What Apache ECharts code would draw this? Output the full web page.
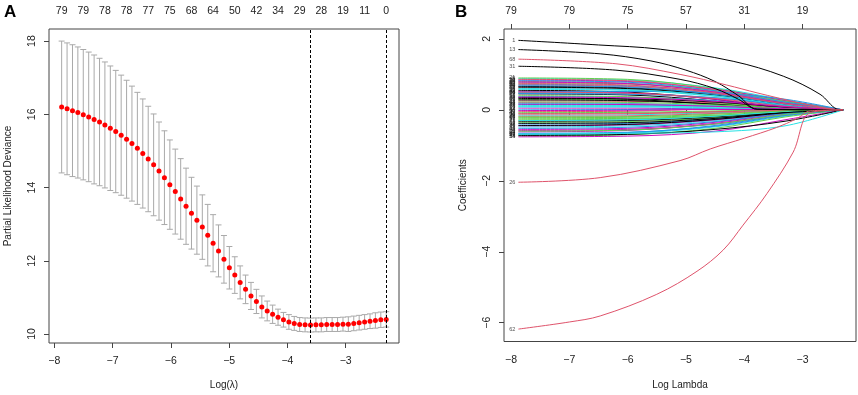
<!DOCTYPE html>
<html>
<head>
<meta charset="utf-8">
<script src="https://cdn.jsdelivr.net/npm/echarts@6/dist/echarts.min.js"></script>
<style>
html, body { margin: 0; padding: 0; background: #fff; }
#main { width: 858px; height: 395px; }
</style>
</head>
<body>
<div id="main"></div>
<script>
// ---------- shared lambda grid (log scale) ----------
var logLambda = [
  -7.873, -7.780, -7.687, -7.595, -7.502, -7.409, -7.316, -7.223, -7.131, -7.038,
  -6.945, -6.852, -6.759, -6.667, -6.574, -6.481, -6.388, -6.295, -6.203, -6.110,
  -6.017, -5.924, -5.831, -5.739, -5.646, -5.553, -5.460, -5.367, -5.275, -5.182,
  -5.089, -4.996, -4.903, -4.811, -4.718, -4.625, -4.532, -4.439, -4.347, -4.254,
  -4.161, -4.068, -3.975, -3.883, -3.790, -3.697, -3.604, -3.511, -3.419, -3.326,
  -3.233, -3.140, -3.047, -2.955, -2.862, -2.769, -2.676, -2.583, -2.491, -2.398, -2.305
];

// ---------- panel A: cross-validation curve ----------
var cvMean = [
  16.20, 16.15, 16.10, 16.05, 15.99, 15.93, 15.86, 15.79, 15.71, 15.62,
  15.53, 15.43, 15.32, 15.20, 15.07, 14.93, 14.78, 14.62, 14.45, 14.27,
  14.08, 13.89, 13.69, 13.49, 13.30, 13.11, 12.92, 12.70, 12.48, 12.27,
  12.04, 11.81, 11.61, 11.41, 11.22, 11.04, 10.89, 10.74, 10.63, 10.54,
  10.46, 10.39, 10.33, 10.29, 10.26, 10.25, 10.245, 10.25, 10.25, 10.26,
  10.26, 10.26, 10.27, 10.27, 10.29, 10.31, 10.33, 10.35, 10.37, 10.39, 10.40
];
var cvSd = [
  1.80, 1.80, 1.80, 1.79, 1.78, 1.77, 1.76, 1.74, 1.72, 1.70,
  1.67, 1.64, 1.61, 1.57, 1.53, 1.49, 1.44, 1.39, 1.34, 1.28,
  1.22, 1.16, 1.10, 1.04, 0.98, 0.93, 0.88, 0.84, 0.78, 0.71,
  0.65, 0.58, 0.50, 0.45, 0.39, 0.37, 0.33, 0.30, 0.27, 0.25,
  0.22, 0.20, 0.20, 0.19, 0.19, 0.19, 0.19, 0.19, 0.19, 0.19,
  0.19, 0.19, 0.19, 0.20, 0.20, 0.20, 0.20, 0.20, 0.21, 0.21, 0.21
];
var idxMin = 46, idx1se = 60;
var dfTopA = [79, 79, 78, 78, 77, 75, 68, 64, 50, 42, 34, 29, 28, 19, 11, 0];
var xTicks = [-8, -7, -6, -5, -4, -3];
var yTicksA = [10, 12, 14, 16, 18];

// ---------- panel B: coefficient paths ----------
var yTicksB = [-6, -4, -2, 0, 2];
var dfTopB = [79, 79, 75, 57, 31, 19];

// the paths that stand out from the bundle
var pathIds = [1, 13, 68, 31, 26, 62];
var pathX = [
  [-7.873, -6.5, -5.44, -4.19, -3.33, -2.70, -2.41, -2.305],
  [-7.873, -6.47, -5.6, -5.0, -4.5, -4.1, -3.78, -2.305],
  [-7.873, -6.2, -5.1, -4.3, -3.78, -3.09, -2.7, -2.45, -2.305],
  [-7.873, -6.2, -5.1, -4.5, -4.1, -3.78, -2.305],
  [-7.873, -6.47, -5.1, -4.58, -4.0, -3.45, -3.1, -2.87, -2.305],
  [-7.873, -7.0, -6.47, -5.5, -4.81, -4.36, -4.02, -3.61, -3.16, -2.87, -2.305]
];
var pathY = [
  [1.96, 1.83, 1.71, 1.37, 0.95, 0.44, 0.02, 0],
  [1.70, 1.58, 1.38, 1.12, 0.80, 0.40, 0.02, 0],
  [1.43, 1.30, 1.00, 0.70, 0.48, 0.21, 0.08, 0.01, 0],
  [1.23, 1.12, 0.86, 0.60, 0.30, 0.02, 0],
  [-2.04, -1.91, -1.43, -1.10, -0.80, -0.50, -0.25, -0.03, 0],
  [-6.18, -5.98, -5.81, -5.20, -4.55, -3.95, -3.25, -2.36, -1.19, -0.08, 0]
];

// the dense bundle near zero, values at knotsB
var knotsB = [-7.873, -6.0, -4.5, -3.3, -2.305];
var bundleIds = [
  2, 3, 4, 5, 6, 7, 8, 9, 10, 11, 12,
  14, 15, 16, 17, 18, 19, 20, 21, 22, 23, 24, 25,
  27, 28, 29, 30,
  32, 33, 34, 35, 36, 37, 38, 39, 40, 41, 42, 43, 44, 45, 46,
  48, 49, 50, 51, 52, 53, 54, 55, 56, 57, 58, 59, 60, 61,
  63, 64, 65, 66, 67,
  69, 70, 71, 72, 73, 74, 75, 76, 77, 78, 79, 80
];
var bundleVals = [
  [0.62, 0.58, 0.40, 0.12, 0], [-0.35, -0.33, -0.22, -0.08, 0], [0.15, 0.14, 0.10, 0.03, 0],
  [0.88, 0.84, 0.62, 0.28, 0], [-0.62, -0.58, -0.38, -0.12, 0], [0.45, 0.42, 0.25, 0.02, 0],
  [-0.10, -0.09, -0.05, 0.00, 0], [0.30, 0.28, 0.18, 0.05, 0], [0.72, 0.68, 0.50, 0.20, 0],
  [-0.48, -0.45, -0.30, -0.10, 0], [0.05, 0.05, 0.02, 0.00, 0],
  [0.80, 0.75, 0.52, 0.22, 0], [-0.22, -0.21, -0.15, -0.05, 0], [0.38, 0.36, 0.26, 0.10, 0],
  [-0.70, -0.66, -0.48, -0.18, 0], [0.20, 0.18, 0.10, 0.00, 0], [0.55, 0.50, 0.30, 0.05, 0],
  [-0.05, -0.04, 0.02, 0.02, 0], [0.90, 0.86, 0.60, 0.25, 0], [-0.40, -0.38, -0.25, -0.06, 0],
  [0.10, 0.10, 0.08, 0.04, 0], [-0.58, -0.55, -0.40, -0.15, 0], [0.66, 0.62, 0.45, 0.18, 0],
  [-0.28, -0.26, -0.18, -0.04, 0], [0.48, 0.46, 0.34, 0.12, 0], [-0.15, -0.14, -0.08, -0.02, 0],
  [0.84, 0.80, 0.58, 0.26, 0],
  [0.25, 0.24, 0.20, 0.08, 0], [-0.74, -0.70, -0.52, -0.20, 0], [0.00, 0.01, 0.03, 0.02, 0],
  [0.58, 0.55, 0.38, 0.14, 0], [-0.45, -0.42, -0.28, -0.08, 0], [0.35, 0.30, 0.15, 0.00, 0],
  [-0.18, -0.17, -0.10, -0.03, 0], [0.76, 0.73, 0.55, 0.24, 0], [-0.66, -0.63, -0.46, -0.16, 0],
  [0.12, 0.12, 0.10, 0.05, 0], [0.52, 0.48, 0.30, 0.06, 0], [-0.32, -0.30, -0.20, -0.06, 0],
  [0.70, 0.66, 0.46, 0.16, 0], [-0.08, -0.07, -0.03, 0.00, 0], [0.50, 0.52, 0.48, 0.30, 0],
  [-0.55, -0.52, -0.35, -0.10, 0], [0.28, 0.26, 0.16, 0.03, 0], [0.86, 0.82, 0.56, 0.20, 0],
  [-0.25, -0.24, -0.17, -0.05, 0], [0.46, 0.44, 0.34, 0.14, 0], [0.18, 0.17, 0.12, 0.04, 0],
  [-0.76, -0.74, -0.60, -0.28, 0], [0.64, 0.60, 0.42, 0.15, 0], [-0.12, -0.11, -0.06, -0.01, 0],
  [0.40, 0.37, 0.22, 0.02, 0], [-0.68, -0.64, -0.44, -0.14, 0], [0.08, 0.08, 0.06, 0.02, 0],
  [0.78, 0.74, 0.50, 0.18, 0], [-0.38, -0.36, -0.24, -0.07, 0],
  [0.22, 0.21, 0.14, 0.04, 0], [-0.52, -0.49, -0.33, -0.10, 0], [0.60, 0.57, 0.40, 0.14, 0],
  [-0.02, -0.01, 0.01, 0.01, 0], [0.32, 0.31, 0.22, 0.08, 0],
  [-0.60, -0.57, -0.40, -0.13, 0], [0.68, 0.64, 0.44, 0.16, 0], [-0.30, -0.28, -0.18, -0.05, 0],
  [0.16, 0.15, 0.10, 0.03, 0], [-0.72, -0.69, -0.55, -0.32, 0], [0.50, 0.47, 0.32, 0.10, 0],
  [-0.20, -0.19, -0.12, -0.03, 0], [0.82, 0.78, 0.54, 0.22, 0], [-0.68, -0.66, -0.62, -0.45, 0],
  [0.36, 0.34, 0.24, 0.09, 0], [-0.44, -0.41, -0.27, -0.08, 0], [0.74, 0.70, 0.48, 0.17, 0]
];

// R default matplot colours (col = 1:6)
var palette = ['#000000', '#DF536B', '#61D04F', '#2297E6', '#28E2E5', '#CD0BBC'];
var FONT = 'Liberation Sans';

var chart = echarts.init(document.getElementById('main'), null, { renderer: 'canvas' });

function colorFor(id) { return palette[(id - 1) % 6]; }
function minus(v) { return String(v).replace('-', '\u2212'); }

// error bars with caps
function renderBar(params, api) {
  var x = api.value(0);
  var top = api.coord([x, api.value(2)]);
  var bot = api.coord([x, api.value(1)]);
  var w = 3;
  var st = { stroke: '#a9a9a9', lineWidth: 1 };
  return {
    type: 'group',
    children: [
      { type: 'line', shape: { x1: top[0], y1: top[1], x2: bot[0], y2: bot[1] }, style: st },
      { type: 'line', shape: { x1: top[0] - w, y1: top[1], x2: top[0] + w, y2: top[1] }, style: st },
      { type: 'line', shape: { x1: bot[0] - w, y1: bot[1], x2: bot[0] + w, y2: bot[1] }, style: st }
    ]
  };
}

var barData = [], dotData = [];
for (var i = 0; i < logLambda.length; i++) {
  barData.push([logLambda[i], cvMean[i] - cvSd[i], cvMean[i] + cvSd[i]]);
  dotData.push([logLambda[i], cvMean[i]]);
}
var topPosA = [];
for (var k = 0; k < dfTopA.length; k++) topPosA.push(logLambda[k * 4]);

var series = [];
series.push({
  type: 'custom', xAxisIndex: 0, yAxisIndex: 0, renderItem: renderBar,
  data: barData, encode: { x: 0, y: [1, 2] }, silent: true, z: 2
});
series.push({
  type: 'scatter', xAxisIndex: 0, yAxisIndex: 0, data: dotData,
  symbolSize: 5, itemStyle: { color: '#ff0000', opacity: 1 }, silent: true, z: 4,
  markLine: {
    silent: true, symbol: 'none', label: { show: false },
    lineStyle: { color: '#000', type: [3, 2], width: 1 },
    data: [{ xAxis: logLambda[idxMin] }, { xAxis: logLambda[idx1se] }]
  }
});

// coefficient paths
var labelData = [];
function addPath(id, xs, ys) {
  var d = [];
  for (var j = 0; j < xs.length; j++) d.push([xs[j], ys[j]]);
  series.push({
    type: 'line', xAxisIndex: 2, yAxisIndex: 1, data: d, showSymbol: false,
    smooth: 0.35, silent: true, lineStyle: { width: 1, color: colorFor(id) }
  });
  labelData.push([xs[0], ys[0], String(id)]);
}
for (var b = 0; b < bundleIds.length; b++) addPath(bundleIds[b], knotsB, bundleVals[b]);
for (var p = 0; p < pathIds.length; p++) addPath(pathIds[p], pathX[p], pathY[p]);

series.push({
  type: 'scatter', xAxisIndex: 2, yAxisIndex: 1, data: labelData,
  symbolSize: 0, silent: true, z: 5,
  label: {
    show: true, position: 'left', distance: 3,
    formatter: function (pr) { return pr.value[2]; },
    fontSize: 5.5, color: '#222', fontFamily: FONT
  }
});

var tickLabel = { fontSize: 10.5, color: '#222', fontFamily: FONT };
var nameStyle = { fontSize: 10, color: '#222', fontFamily: FONT };

var option = {
  animation: false,
  backgroundColor: '#fff',
  graphic: [
    { type: 'text', left: 4, top: 4, style: { text: 'A', font: 'bold 17px ' + FONT, fill: '#000' } },
    { type: 'text', left: 455, top: 4, style: { text: 'B', font: 'bold 17px ' + FONT, fill: '#000' } }
  ],
  grid: [
    { left: 49, top: 29, width: 350, height: 315, show: true, borderColor: '#444', borderWidth: 1 },
    { left: 504, top: 29, width: 352, height: 315, show: true, borderColor: '#444', borderWidth: 1 }
  ],
  xAxis: [
    {
      gridIndex: 0, type: 'value', min: -8.09, max: -2.086, position: 'bottom',
      axisLine: { show: false }, splitLine: { show: false },
      axisTick: { show: true, length: 5, customValues: xTicks, lineStyle: { color: '#444' } },
      axisLabel: Object.assign({ margin: 13, customValues: xTicks, formatter: minus }, tickLabel),
      name: 'Log(\u03bb)', nameLocation: 'middle', nameGap: 37, nameTextStyle: nameStyle
    },
    {
      gridIndex: 0, type: 'value', min: -8.09, max: -2.086, position: 'top',
      axisLine: { show: false }, splitLine: { show: false }, axisTick: { show: false },
      axisLabel: Object.assign({
        margin: 12, customValues: topPosA,
        formatter: function (v) {
          for (var q = 0; q < topPosA.length; q++) if (Math.abs(topPosA[q] - v) < 1e-6) return String(dfTopA[q]);
          return '';
        }
      }, tickLabel)
    },
    {
      gridIndex: 1, type: 'value', min: -8.12, max: -2.083, position: 'bottom',
      axisLine: { show: false }, splitLine: { show: false },
      axisTick: { show: true, length: 5, customValues: xTicks, lineStyle: { color: '#444' } },
      axisLabel: Object.assign({ margin: 13, customValues: xTicks, formatter: minus }, tickLabel),
      name: 'Log Lambda', nameLocation: 'middle', nameGap: 38.5, nameTextStyle: nameStyle
    },
    {
      gridIndex: 1, type: 'value', min: -8.12, max: -2.083, position: 'top',
      axisLine: { show: false }, splitLine: { show: false },
      axisTick: { show: true, length: 5, customValues: xTicks, lineStyle: { color: '#444' } },
      axisLabel: Object.assign({
        margin: 12, customValues: xTicks,
        formatter: function (v) { return String(dfTopB[xTicks.indexOf(Math.round(v))]); }
      }, tickLabel)
    }
  ],
  yAxis: [
    {
      gridIndex: 0, type: 'value', min: 9.755, max: 18.33,
      axisLine: { show: false }, splitLine: { show: false },
      axisTick: { show: true, length: 5, customValues: yTicksA, lineStyle: { color: '#444' } },
      axisLabel: Object.assign({ margin: 11, rotate: 90, customValues: yTicksA, formatter: minus }, tickLabel),
      name: 'Partial Likelihood Deviance', nameLocation: 'middle', nameGap: 36, nameTextStyle: nameStyle
    },
    {
      gridIndex: 1, type: 'value', min: -6.53, max: 2.28,
      axisLine: { show: false }, splitLine: { show: false },
      axisTick: { show: true, length: 5, customValues: yTicksB, lineStyle: { color: '#444' } },
      axisLabel: Object.assign({ margin: 11, rotate: 90, customValues: yTicksB, formatter: minus }, tickLabel),
      name: 'Coefficients', nameLocation: 'middle', nameGap: 36, nameTextStyle: nameStyle
    }
  ],
  series: series
};

chart.setOption(option);
</script>
</body>
</html>
